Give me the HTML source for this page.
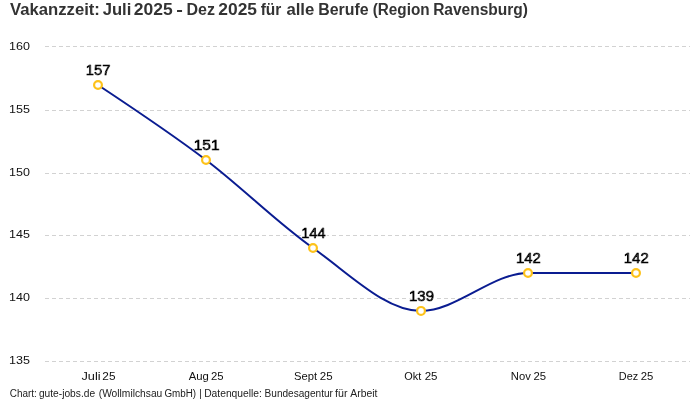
<!DOCTYPE html>
<html lang="de"><head><meta charset="utf-8"><title>Vakanzzeit</title>
<style>
html,body{margin:0;padding:0;background:#fff;}
body{width:700px;height:400px;overflow:hidden;}
svg{display:block;font-family:"Liberation Sans",sans-serif;}
.t{font-size:16px;font-weight:700;fill:#333;}
.ax{font-size:11.2px;fill:#111;}
.dl{font-size:13.8px;font-weight:400;fill:#000;stroke:#000;stroke-width:0.95px;stroke-linejoin:round;filter:url(#halo);}
.ft{font-size:10px;fill:#222;}
.g{stroke:#d2d2d2;stroke-width:1;stroke-dasharray:4 3;shape-rendering:crispEdges;}
</style></head><body>
<svg width="700" height="400" viewBox="0 0 700 400">
<defs><filter id="halo" x="-20%" y="-30%" width="140%" height="160%"><feMorphology in="SourceAlpha" operator="dilate" radius="1" result="d"/><feFlood flood-color="#fff"/><feComposite in2="d" operator="in" result="h"/><feMerge><feMergeNode in="h"/><feMergeNode in="SourceGraphic"/></feMerge></filter></defs>
<rect width="700" height="400" fill="#fff"/>
<line class="g" x1="45" x2="690" y1="46.5" y2="46.5"/>
<line class="g" x1="45" x2="690" y1="110.5" y2="110.5"/>
<line class="g" x1="45" x2="690" y1="173.5" y2="173.5"/>
<line class="g" x1="45" x2="690" y1="235.5" y2="235.5"/>
<line class="g" x1="45" x2="690" y1="298.5" y2="298.5"/>
<line class="g" x1="45" x2="690" y1="361.5" y2="361.5"/>
<text class="dl" transform="translate(85.82,74.6) scale(1.0672,1)">157</text>
<text class="dl" transform="translate(193.66,149.8) scale(1.1231,1)">151</text>
<text class="dl" transform="translate(301.22,237.8) scale(1.0631,1)">144</text>
<text class="dl" transform="translate(409.05,300.7) scale(1.0842,1)">139</text>
<text class="dl" transform="translate(516.06,262.8) scale(1.0790,1)">142</text>
<text class="dl" transform="translate(623.81,262.8) scale(1.0814,1)">142</text>
<path d="M98.00,85.00C134.00,108.84 170.00,132.69 206.00,160.00C241.67,187.06 277.33,222.93 313.00,248.00C349.00,273.31 385.00,310.90 421.00,310.90C456.67,310.90 492.33,273.00 528.00,273.00C564.00,273.00 600.00,273.00 636.00,273.00" fill="none" stroke="#0a1c91" stroke-width="2" stroke-linejoin="round"/>
<circle cx="98.00" cy="85.00" r="3.9" fill="#fff" stroke="#fdc21a" stroke-width="2.2"/>
<circle cx="206.00" cy="160.00" r="3.9" fill="#fff" stroke="#fdc21a" stroke-width="2.2"/>
<circle cx="313.00" cy="248.00" r="3.9" fill="#fff" stroke="#fdc21a" stroke-width="2.2"/>
<circle cx="421.00" cy="310.90" r="3.9" fill="#fff" stroke="#fdc21a" stroke-width="2.2"/>
<circle cx="528.00" cy="273.00" r="3.9" fill="#fff" stroke="#fdc21a" stroke-width="2.2"/>
<circle cx="636.00" cy="273.00" r="3.9" fill="#fff" stroke="#fdc21a" stroke-width="2.2"/>
<text class="t" y="14.6"><tspan x="10.09" textLength="89.85" lengthAdjust="spacingAndGlyphs">Vakanzzeit:</tspan> <tspan x="102.69" textLength="28.61" lengthAdjust="spacingAndGlyphs">Juli</tspan> <tspan x="133.78" textLength="38.87" lengthAdjust="spacingAndGlyphs">2025</tspan> <tspan x="176.22" textLength="6.60" lengthAdjust="spacingAndGlyphs">-</tspan> <tspan x="186.51" textLength="28.44" lengthAdjust="spacingAndGlyphs">Dez</tspan> <tspan x="218.38" textLength="38.66" lengthAdjust="spacingAndGlyphs">2025</tspan> <tspan x="260.71" textLength="20.64" lengthAdjust="spacingAndGlyphs">für</tspan> <tspan x="286.45" textLength="27.87" lengthAdjust="spacingAndGlyphs">alle</tspan> <tspan x="318.31" textLength="50.36" lengthAdjust="spacingAndGlyphs">Berufe</tspan> <tspan x="372.72" textLength="56.85" lengthAdjust="spacingAndGlyphs">(Region</tspan> <tspan x="433.14" textLength="94.83" lengthAdjust="spacingAndGlyphs">Ravensburg)</tspan></text>
<text class="ft" y="397.0"><tspan x="9.84" textLength="27.02" lengthAdjust="spacingAndGlyphs">Chart:</tspan> <tspan x="38.91" textLength="56.17" lengthAdjust="spacingAndGlyphs">gute-jobs.de</tspan> <tspan x="98.72" textLength="63.58" lengthAdjust="spacingAndGlyphs">(Wollmilchsau</tspan> <tspan x="164.46" textLength="31.70" lengthAdjust="spacingAndGlyphs">GmbH)</tspan> <tspan x="199.20">|</tspan> <tspan x="204.15" textLength="57.82" lengthAdjust="spacingAndGlyphs">Datenquelle:</tspan> <tspan x="264.57" textLength="68.38" lengthAdjust="spacingAndGlyphs">Bundesagentur</tspan> <tspan x="335.13" textLength="12.45" lengthAdjust="spacingAndGlyphs">für</tspan> <tspan x="350.28" textLength="27.14" lengthAdjust="spacingAndGlyphs">Arbeit</tspan></text>
<text class="ax" y="379.9"><tspan x="81.49" textLength="19.13" lengthAdjust="spacingAndGlyphs">Juli</tspan> <tspan x="102.38" textLength="13.15" lengthAdjust="spacingAndGlyphs">25</tspan></text>
<text class="ax" y="379.9"><tspan x="188.76" textLength="20.13" lengthAdjust="spacingAndGlyphs">Aug</tspan> <tspan x="210.90" textLength="12.61" lengthAdjust="spacingAndGlyphs">25</tspan></text>
<text class="ax" y="379.9"><tspan x="293.97" textLength="23.10" lengthAdjust="spacingAndGlyphs">Sept</tspan> <tspan x="319.89" textLength="12.82" lengthAdjust="spacingAndGlyphs">25</tspan></text>
<text class="ax" y="379.9"><tspan x="404.23" textLength="16.96" lengthAdjust="spacingAndGlyphs">Okt</tspan> <tspan x="424.69" textLength="12.82" lengthAdjust="spacingAndGlyphs">25</tspan></text>
<text class="ax" y="379.9"><tspan x="510.80" textLength="19.99" lengthAdjust="spacingAndGlyphs">Nov</tspan> <tspan x="533.40" textLength="12.61" lengthAdjust="spacingAndGlyphs">25</tspan></text>
<text class="ax" y="379.9"><tspan x="618.82" textLength="19.34" lengthAdjust="spacingAndGlyphs">Dez</tspan> <tspan x="640.70" textLength="12.61" lengthAdjust="spacingAndGlyphs">25</tspan></text>
<text class="ax" y="50.0"><tspan x="9.09" textLength="20.90" lengthAdjust="spacingAndGlyphs">160</tspan></text>
<text class="ax" y="113.0"><tspan x="9.08" textLength="20.93" lengthAdjust="spacingAndGlyphs">155</tspan></text>
<text class="ax" y="176.0"><tspan x="9.09" textLength="20.90" lengthAdjust="spacingAndGlyphs">150</tspan></text>
<text class="ax" y="238.0"><tspan x="9.08" textLength="20.93" lengthAdjust="spacingAndGlyphs">145</tspan></text>
<text class="ax" y="301.0"><tspan x="9.09" textLength="20.90" lengthAdjust="spacingAndGlyphs">140</tspan></text>
<text class="ax" y="364.0"><tspan x="9.08" textLength="20.93" lengthAdjust="spacingAndGlyphs">135</tspan></text>
</svg></body></html>
